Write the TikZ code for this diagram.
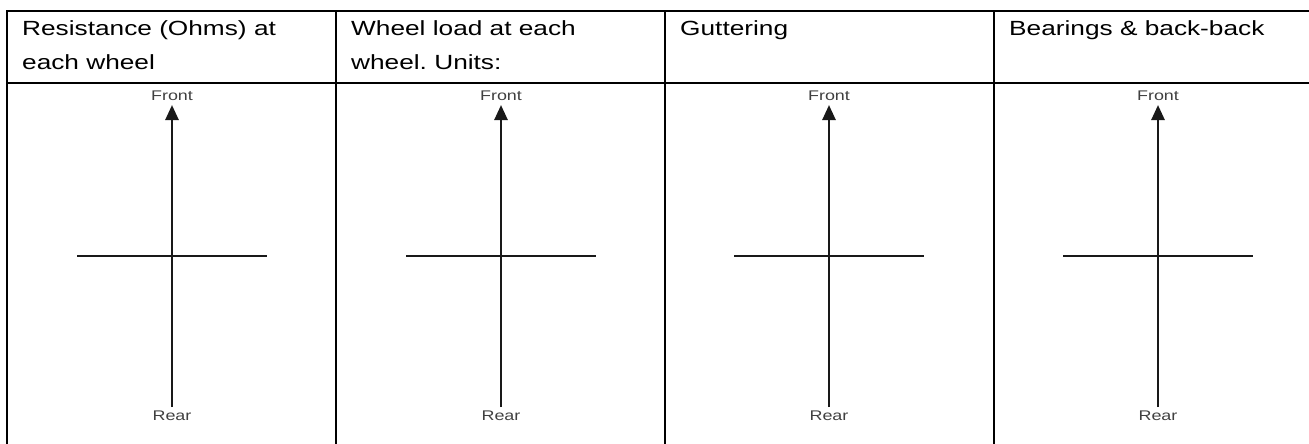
\documentclass[tikz,border=0pt]{standalone}
\usepackage{fontspec}
\setmainfont{Liberation Sans}[FakeStretch=1.28]
\usetikzlibrary{arrows.meta}
\frenchspacing

\begin{document}
\begin{tikzpicture}[x=1pt,y=-1pt,
    rule/.style={line width=2.2pt},
    axisline/.style={line width=2.6pt,black!90},
    head/.style={anchor=base west,align=left,inner sep=0pt,font=\fontsize{20.5}{34}\selectfont},
    tag/.style={inner sep=0pt,text=black!75,font=\fontsize{14}{15}\selectfont}]
  \useasboundingbox (0,0) rectangle (1309,444);
  % table lines
  \draw[rule] (1320,11) -- (7,11) -- (7,450);
  \draw[rule] (7,83) -- (1320,83);
  \draw[rule] (336,11) -- (336,450);
  \draw[rule] (665,11) -- (665,450);
  \draw[rule] (994,11) -- (994,450);
  % header row (base of last line)
  \node[head] at (22,70) (head0) {Resistance (Ohms) at\\each wheel};
  \node[head] at (351,70) (head1) {Wheel load at each\\wheel. Units:};
  \node[head] at (680,36) (head2) {Guttering};
  \node[head] at (1009,36) (head3) {Bearings \& back-back};
  % axes
  \node[tag] at (172,96) (front0) {Front};
  \node[tag] at (172,416) (rear0) {Rear};
  \coordinate (tip0) at (172,105);
  \coordinate (end0) at (172,407);
  \coordinate (left0) at (77,256);
  \coordinate (right0) at (267,256);
  \draw[axisline,-{Triangle[length=15pt,width=13pt]}] (end0) -- (tip0);
  \draw[axisline] (left0) -- (right0);
  \node[tag] at (501,96) (front1) {Front};
  \node[tag] at (501,416) (rear1) {Rear};
  \coordinate (tip1) at (501,105);
  \coordinate (end1) at (501,407);
  \coordinate (left1) at (406,256);
  \coordinate (right1) at (596,256);
  \draw[axisline,-{Triangle[length=15pt,width=13pt]}] (end1) -- (tip1);
  \draw[axisline] (left1) -- (right1);
  \node[tag] at (829,96) (front2) {Front};
  \node[tag] at (829,416) (rear2) {Rear};
  \coordinate (tip2) at (829,105);
  \coordinate (end2) at (829,407);
  \coordinate (left2) at (734,256);
  \coordinate (right2) at (924,256);
  \draw[axisline,-{Triangle[length=15pt,width=13pt]}] (end2) -- (tip2);
  \draw[axisline] (left2) -- (right2);
  \node[tag] at (1158,96) (front3) {Front};
  \node[tag] at (1158,416) (rear3) {Rear};
  \coordinate (tip3) at (1158,105);
  \coordinate (end3) at (1158,407);
  \coordinate (left3) at (1063,256);
  \coordinate (right3) at (1253,256);
  \draw[axisline,-{Triangle[length=15pt,width=13pt]}] (end3) -- (tip3);
  \draw[axisline] (left3) -- (right3);
\end{tikzpicture}
\end{document}
